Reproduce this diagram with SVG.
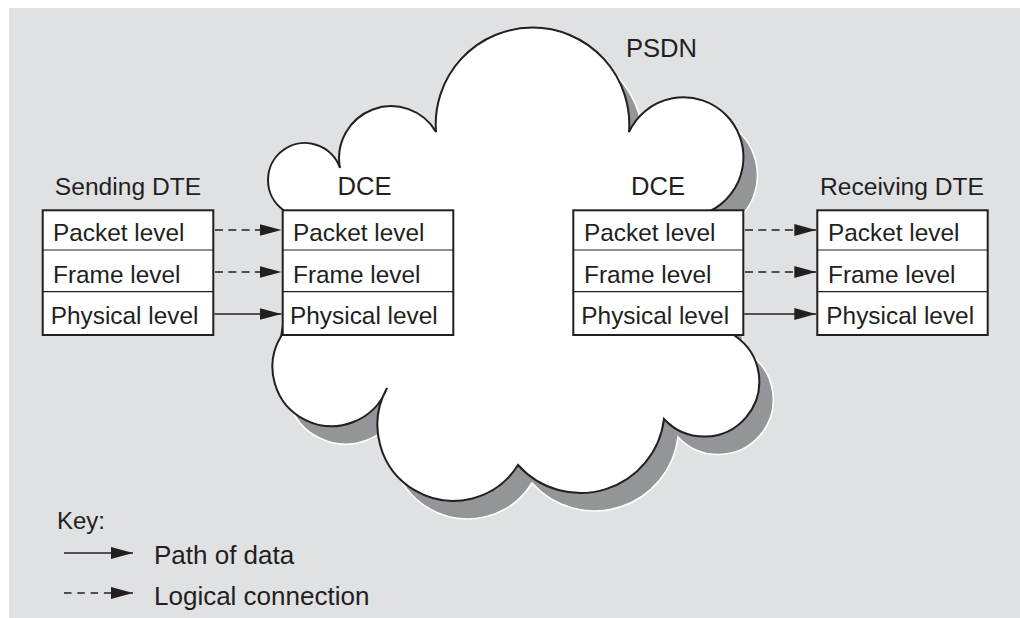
<svg xmlns="http://www.w3.org/2000/svg" xmlns:xlink="http://www.w3.org/1999/xlink" width="1020" height="618" viewBox="0 0 1020 618">
<style>
  text { font-family: "Liberation Sans", Arial, sans-serif; fill: #231f20; }
  .lbl { font-size: 24.4px; }
  .hdr { font-size: 24.6px; text-anchor: middle; }
  .big { font-size: 25.6px; text-anchor: middle; }
  .key { font-size: 26px; }
  .box { fill: #ffffff; stroke: #231f20; stroke-width: 2; }
  .div { stroke: #231f20; stroke-width: 1.2; }
  .solid { stroke: #231f20; stroke-width: 1.4; fill: none; }
  .dash { stroke: #231f20; stroke-width: 1.4; fill: none; stroke-dasharray: 8 5.3; }
  .cloud { fill: #ffffff; stroke: #231f20; stroke-width: 2; }
  .shadow { fill: #939598; stroke: #ffffff; stroke-width: 1.6; }
</style>
<defs>
  <marker id="ah" markerUnits="userSpaceOnUse" markerWidth="22" markerHeight="12" refX="22" refY="6" orient="auto" viewBox="0 0 22 12">
    <path d="M0,0 L22,6 L0,12 Z" fill="#231f20"/>
  </marker>
  <path id="cloudShape" d="M 283.3,210 A 37,37 0 1 1 340,168 A 52,52 0 0 1 436,132 A 96.8,96.8 0 1 1 629,132 A 60,60 0 1 1 710.1,211 L 724,250 L 729,328 L 735.1,336 A 55,55 0 1 1 664,419 A 84,84 0 0 1 518,465 A 76,76 0 0 1 387,388 A 59.2,59.2 0 1 1 281.2,336 L 287,300 L 287,216 Z"/>
</defs>

<rect x="9" y="8" width="1011" height="610" fill="#e0e1e3"/>

<g id="psdn-cloud">
  <use xlink:href="#cloudShape" href="#cloudShape" class="shadow" transform="translate(14,18)"/>
  <use xlink:href="#cloudShape" href="#cloudShape" class="cloud"/>
  <text class="big" x="661.5" y="57">PSDN</text>
</g>

<g id="sending-dte">
  <text class="hdr" x="128" y="194.5">Sending DTE</text>
  <rect class="box" x="42.7" y="210.3" width="170.6" height="124.7"/>
  <line class="div" x1="42.7" y1="250" x2="213.3" y2="250"/>
  <line class="div" x1="42.7" y1="291.7" x2="213.3" y2="291.7"/>
  <text class="lbl" x="53" y="241">Packet level</text>
  <text class="lbl" x="53" y="282.5">Frame level</text>
  <text class="lbl" x="50.7" y="324">Physical level</text>
</g>

<g id="dce-left">
  <text class="big" x="364.5" y="195">DCE</text>
  <rect class="box" x="282.7" y="210.3" width="170.6" height="124.7"/>
  <line class="div" x1="282.7" y1="250" x2="453.3" y2="250"/>
  <line class="div" x1="282.7" y1="291.7" x2="453.3" y2="291.7"/>
  <text class="lbl" x="293" y="241">Packet level</text>
  <text class="lbl" x="293" y="282.5">Frame level</text>
  <text class="lbl" x="290" y="324">Physical level</text>
</g>

<g id="dce-right">
  <text class="big" x="658" y="195">DCE</text>
  <rect class="box" x="573.3" y="210.3" width="170" height="124.7"/>
  <line class="div" x1="573.3" y1="250" x2="743.3" y2="250"/>
  <line class="div" x1="573.3" y1="291.7" x2="743.3" y2="291.7"/>
  <text class="lbl" x="584" y="241">Packet level</text>
  <text class="lbl" x="584" y="282.5">Frame level</text>
  <text class="lbl" x="581.3" y="324">Physical level</text>
</g>

<g id="receiving-dte">
  <text class="hdr" x="902" y="194.5">Receiving DTE</text>
  <rect class="box" x="817.3" y="210.3" width="170.4" height="124.7"/>
  <line class="div" x1="817.3" y1="250" x2="987.7" y2="250"/>
  <line class="div" x1="817.3" y1="291.7" x2="987.7" y2="291.7"/>
  <text class="lbl" x="828" y="241">Packet level</text>
  <text class="lbl" x="828" y="282.5">Frame level</text>
  <text class="lbl" x="826.3" y="324">Physical level</text>
</g>

<g id="connectors">
  <line class="dash" x1="215" y1="230" x2="281.5" y2="230" marker-end="url(#ah)"/>
  <line class="dash" x1="215" y1="272" x2="281.5" y2="272" marker-end="url(#ah)"/>
  <line class="solid" x1="214.3" y1="314" x2="281.5" y2="314" marker-end="url(#ah)"/>
  <line class="dash" x1="745" y1="230" x2="816.3" y2="230" marker-end="url(#ah)"/>
  <line class="dash" x1="745" y1="272" x2="816.3" y2="272" marker-end="url(#ah)"/>
  <line class="solid" x1="744.3" y1="314" x2="816.3" y2="314" marker-end="url(#ah)"/>
</g>

<g id="key">
  <text class="lbl" x="57" y="529" style="font-size:24px">Key:</text>
  <line class="solid" x1="64" y1="553" x2="133" y2="553" marker-end="url(#ah)"/>
  <text class="key" x="154" y="564">Path of data</text>
  <line class="dash" x1="64" y1="593" x2="133" y2="593" style="stroke-dasharray:7.5 5.8" marker-end="url(#ah)"/>
  <text class="key" x="154" y="605">Logical connection</text>
</g>
</svg>
